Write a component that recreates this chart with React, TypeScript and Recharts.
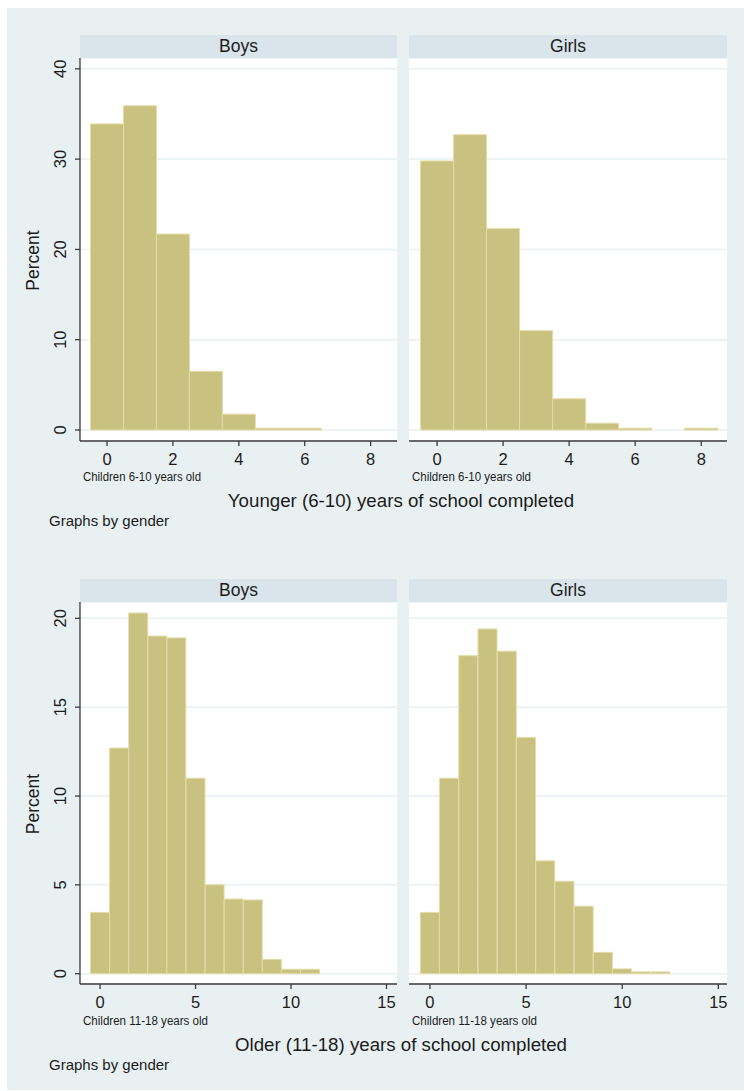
import { Bar, BarChart, CartesianGrid, XAxis, YAxis } from "recharts";

// Percent of children by years of school completed, one bin per year
const youngerBins = [0, 1, 2, 3, 4, 5, 6, 7, 8];
const youngerBoys = [33.9, 35.9, 21.7, 6.5, 1.75, 0.2, 0.2, 0, 0];
const youngerGirls = [29.8, 32.7, 22.3, 11.0, 3.45, 0.75, 0.2, 0, 0.2];
const youngerXTicks = [0, 2, 4, 6, 8];
const youngerYTicks = [0, 10, 20, 30, 40];

const olderBins = [0, 1, 2, 3, 4, 5, 6, 7, 8, 9, 10, 11, 12];
const olderBoys = [3.45, 12.7, 20.3, 19.0, 18.9, 11.0, 5.0, 4.2, 4.15, 0.8, 0.25, 0.25, 0];
const olderGirls = [3.45, 11.0, 17.9, 19.4, 18.15, 13.3, 6.35, 5.2, 3.8, 1.2, 0.27, 0.1, 0.1];
const olderXTicks = [0, 5, 10, 15];
const olderYTicks = [0, 5, 10, 15, 20];

const FONT = '"Liberation Sans", Arial, sans-serif';
const TEXT = "#1c1c1c";
const AXIS = "#3a3a3a";
const GRID = "#e8f0f2";
const FILL = "#c9c17f";
const EDGE = "#e4dca6";
const PAGE_BG = "#e8f0f2";
const STRIP = "#d9e5ea";

type TickProps = { x: number; y: number; payload: { value: number } };

const renderYTick = ({ x, y, payload }: TickProps) => (
  <text
    x={0}
    y={0}
    transform={`translate(${x - 1},${y}) rotate(-90)`}
    textAnchor="middle"
    fill={TEXT}
    fontSize={16.5}
    fontFamily={FONT}
  >
    {payload.value}
  </text>
);

type PanelProps = {
  bins: number[];
  values: number[];
  xDomain: [number, number];
  xTicks: number[];
  yDomain: [number, number];
  yTicks: number[];
  showY: boolean;
  left: number;
  top: number;
  width: number;
  plotHeight: number;
};

function HistPanel({ bins, values, xDomain, xTicks, yDomain, yTicks, showY, left, top, width, plotHeight }: PanelProps) {
  const data = bins.map((bin, i) => ({ bin, pct: values[i] }));
  return (
    <div style={{ position: "absolute", left, top }}>
      <BarChart
        width={width}
        height={plotHeight + 34}
        data={data}
        margin={{ top: 0, right: 0, bottom: 0, left: 0 }}
        barCategoryGap={0}
        barGap={0}
      >
        <CartesianGrid vertical={false} fill="#ffffff" stroke={GRID} strokeWidth={1.5} />
        <XAxis
          dataKey="bin"
          type="number"
          domain={xDomain}
          ticks={xTicks}
          allowDataOverflow
          interval={0}
          height={34}
          tickSize={5}
          tickMargin={7}
          stroke={AXIS}
          strokeWidth={1.3}
          tick={{ fill: TEXT, fontSize: 16.5, fontFamily: FONT }}
        />
        <YAxis
          type="number"
          domain={yDomain}
          ticks={yTicks}
          allowDataOverflow
          hide={!showY}
          width={80}
          tickSize={5}
          tickMargin={8}
          stroke={AXIS}
          strokeWidth={1.3}
          tick={renderYTick}
        />
        <Bar dataKey="pct" fill={FILL} stroke={EDGE} strokeWidth={1} isAnimationActive={false} />
      </BarChart>
    </div>
  );
}

function Strip({ x, y, w, label }: { x: number; y: number; w: number; label: string }) {
  return (
    <g>
      <rect x={x} y={y} width={w} height={23} fill={STRIP} />
      <text x={x + w / 2} y={y + 11} textAnchor="middle" dominantBaseline="central" fontSize={17.5} fill={TEXT}>
        {label}
      </text>
    </g>
  );
}

function Decorations() {
  return (
    <svg width={744} height={1091} style={{ position: "absolute", left: 0, top: 0 }} fontFamily={FONT}>
      <rect x={7} y={8} width={737} height={1082} fill={PAGE_BG} />

      {/* younger children */}
      <Strip x={80} y={35} w={317} label="Boys" />
      <Strip x={409} y={35} w={318} label="Girls" />
      <text transform="translate(39,260.5) rotate(-90)" textAnchor="middle" fontSize={17.5} fill={TEXT}>
        Percent
      </text>
      <text x={83} y={481} fontSize={12} fill={TEXT} textLength={118} lengthAdjust="spacingAndGlyphs">
        Children 6-10 years old
      </text>
      <text x={412} y={481} fontSize={12} fill={TEXT} textLength={119} lengthAdjust="spacingAndGlyphs">
        Children 6-10 years old
      </text>
      <text x={401} y={507} textAnchor="middle" fontSize={18.7} fill={TEXT}>
        Younger (6-10) years of school completed
      </text>
      <text x={49} y={526} fontSize={15} fill={TEXT}>
        Graphs by gender
      </text>

      {/* older children */}
      <Strip x={80} y={579} w={317} label="Boys" />
      <Strip x={409} y={579} w={318} label="Girls" />
      <text transform="translate(39,804) rotate(-90)" textAnchor="middle" fontSize={17.5} fill={TEXT}>
        Percent
      </text>
      <text x={83} y={1025} fontSize={12} fill={TEXT} textLength={125} lengthAdjust="spacingAndGlyphs">
        Children 11-18 years old
      </text>
      <text x={412} y={1025} fontSize={12} fill={TEXT} textLength={125} lengthAdjust="spacingAndGlyphs">
        Children 11-18 years old
      </text>
      <text x={401} y={1051} textAnchor="middle" fontSize={18.7} fill={TEXT}>
        Older (11-18) years of school completed
      </text>
      <text x={49} y={1070} fontSize={15} fill={TEXT}>
        Graphs by gender
      </text>
    </svg>
  );
}

export default function App() {
  return (
    <div style={{ position: "absolute", left: 0, top: 0, width: 744, height: 1091, background: "#ffffff", fontFamily: FONT }}>
      <Decorations />
      <HistPanel
        bins={youngerBins}
        values={youngerBoys}
        xDomain={[-0.82, 8.8]}
        xTicks={youngerXTicks}
        yDomain={[-1.22, 41.2]}
        yTicks={youngerYTicks}
        showY
        left={0}
        top={58}
        width={397}
        plotHeight={383}
      />
      <HistPanel
        bins={youngerBins}
        values={youngerGirls}
        xDomain={[-0.85, 8.78]}
        xTicks={youngerXTicks}
        yDomain={[-1.22, 41.2]}
        yTicks={youngerYTicks}
        showY={false}
        left={409}
        top={58}
        width={318}
        plotHeight={383}
      />
      <HistPanel
        bins={olderBins}
        values={olderBoys}
        xDomain={[-1.05, 15.55]}
        xTicks={olderXTicks}
        yDomain={[-0.58, 20.92]}
        yTicks={olderYTicks}
        showY
        left={0}
        top={602}
        width={397}
        plotHeight={382}
      />
      <HistPanel
        bins={olderBins}
        values={olderGirls}
        xDomain={[-1.09, 15.45]}
        xTicks={olderXTicks}
        yDomain={[-0.58, 20.92]}
        yTicks={olderYTicks}
        showY={false}
        left={409}
        top={602}
        width={318}
        plotHeight={382}
      />
    </div>
  );
}
